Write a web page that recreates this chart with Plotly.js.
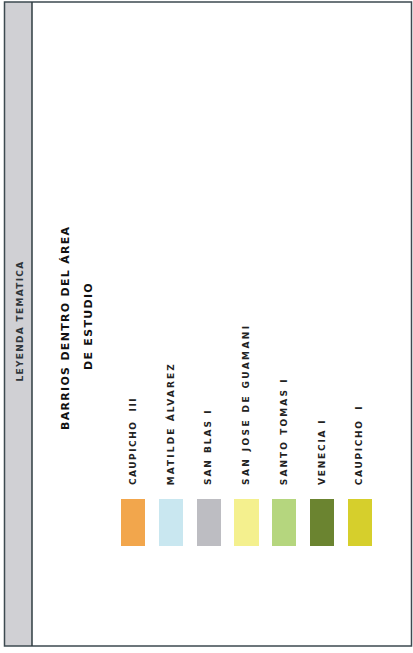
<!DOCTYPE html>
<html>
<head>
<meta charset="utf-8">
<script src="https://cdn.plot.ly/plotly-3.0.1.min.js"></script>
<style>html,body{margin:0;padding:0;background:#fff;}#chart{width:413px;height:653px;}</style>
</head>
<body>
<div id="chart"></div>
<script>
// Legend entries (neighbourhoods) and their swatch colours
const barrios = ["CAUPICHO  III", "MATILDE ÁLVAREZ", "SAN BLAS I", "SAN JOSE DE GUAMANI", "SANTO TOMAS I", "VENECIA I", "CAUPICHO  I"];
const colores = ["#F2A64C", "#C9E7F0", "#BDBDC2", "#F4F08E", "#B5D67E", "#6B8430", "#D6CF2C"];
const swatchValue = [1, 1, 1, 1, 1, 1, 1];
const tituloLinea1 = "BARRIOS DENTRO DEL ÁREA";
const tituloLinea2 = "DE ESTUDIO";
const tituloLateral = "LEYENDA TEMATICA";

const W = 413, H = 653;
const px = x => x / W;
const py = y => 1 - y / H;
const spaced = (t, s) => '<b><span style="letter-spacing:' + s + 'px">' + t + '</span></b>';

const idx = barrios.map((_, i) => i);
const step = 37.8, first = 133;
const labelSpacing = [1.5, 2.1, 2.0, 2.4, 2.1, 1.8, 1.7];

const trace = {
  type: "bar",
  x: idx,
  y: swatchValue,
  base: 0,
  width: 0.64,
  marker: {color: colores, line: {width: 0}},
  hoverinfo: "skip",
  showlegend: false
};

const annotations = barrios.map((b, i) => ({
  x: i, xref: "x", y: py(487), yref: "paper",
  text: spaced(b, labelSpacing[i]), showarrow: false, textangle: -90,
  xanchor: "center", yanchor: "bottom",
  font: {family: "DejaVu Sans, sans-serif", size: 9, color: "#222", weight: "bold"}
}));

annotations.push({
  x: px(66), xref: "paper", y: py(328), yref: "paper",
  text: spaced(tituloLinea1, 1.3), showarrow: false, textangle: -90,
  xanchor: "center", yanchor: "middle",
  font: {family: "DejaVu Sans, sans-serif", size: 11, color: "#111", weight: "bold"}
});
annotations.push({
  x: px(88), xref: "paper", y: py(326), yref: "paper",
  text: spaced(tituloLinea2, 1.3), showarrow: false, textangle: -90,
  xanchor: "center", yanchor: "middle",
  font: {family: "DejaVu Sans, sans-serif", size: 11, color: "#111", weight: "bold"}
});
annotations.push({
  x: px(19.5), xref: "paper", y: py(321), yref: "paper",
  text: spaced(tituloLateral, 1.3), showarrow: false, textangle: -90,
  xanchor: "center", yanchor: "middle",
  font: {family: "DejaVu Sans, sans-serif", size: 9, color: "#2f353a", weight: "bold"}
});

const shapes = [
  {type: "rect", xref: "paper", yref: "paper", x0: px(4.5), x1: px(32), y0: py(646), y1: py(2),
   fillcolor: "#D0D0D4", line: {width: 0}, layer: "below"},
  {type: "rect", xref: "paper", yref: "paper", x0: px(4.5), x1: px(411.5), y0: py(646), y1: py(2),
   fillcolor: "rgba(0,0,0,0)", line: {color: "#3d4a50", width: 1.5}},
  {type: "line", xref: "paper", yref: "paper", x0: px(32), x1: px(32), y0: py(646), y1: py(2),
   line: {color: "#2f3c42", width: 1.5}}
];

const layout = {
  width: W, height: H,
  margin: {l: 0, r: 0, t: 0, b: 0, pad: 0},
  paper_bgcolor: "#ffffff", plot_bgcolor: "rgba(0,0,0,0)",
  xaxis: {range: [-first / step, (W - first) / step], visible: false, fixedrange: true},
  yaxis: {range: [0, 1], domain: [py(546), py(499)], visible: false, fixedrange: true},
  annotations: annotations,
  shapes: shapes,
  showlegend: false,
  bargap: 0
};

Plotly.newPlot("chart", [trace], layout, {displayModeBar: false, staticPlot: true});
</script>
</body>
</html>
